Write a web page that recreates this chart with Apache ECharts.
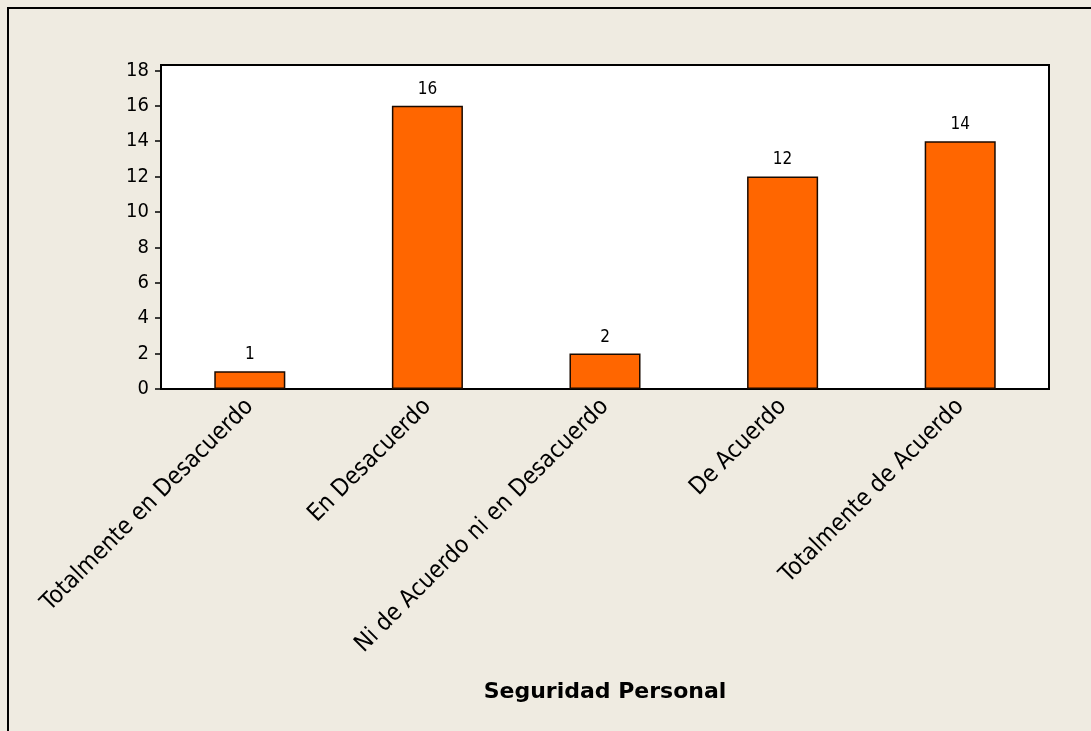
<!DOCTYPE html>
<html>
<head>
<meta charset="utf-8">
<script src="https://cdn.jsdelivr.net/npm/echarts@6/dist/echarts.min.js"></script>
<style>
  html, body { margin: 0; padding: 0; background: #EFEBE1; }
  #wrap { position: relative; width: 1091px; height: 731px; }
  #chart { width: 1091px; height: 731px; }
  #frame { position: absolute; left: 7px; top: 7px; right: -5px; bottom: -5px;
           border-left: 2px solid #000; border-top: 2px solid #000; pointer-events: none; }
</style>
</head>
<body>
<div id="wrap">
  <div id="chart"></div>
  <div id="frame"></div>
</div>
<script>
// categorias y conteos
var categorias = ['Totalmente en Desacuerdo', 'En Desacuerdo', 'Ni de Acuerdo ni en Desacuerdo', 'De Acuerdo', 'Totalmente de Acuerdo'];
var conteos = [1, 16, 2, 12, 14];
var yTicks = [0, 2, 4, 6, 8, 10, 12, 14, 16, 18];

var chart = echarts.init(document.getElementById('chart'));
var fuente = '"DejaVu Sans Condensed", "DejaVu Sans"';

chart.setOption({
    backgroundColor: 'transparent',
    animation: false,
    grid: {
        left: 161, top: 65, width: 888, height: 324,
        show: true, backgroundColor: '#fff', borderColor: '#000', borderWidth: 2
    },
    xAxis: {
        type: 'category',
        data: categorias,
        name: 'Seguridad Personal',
        nameLocation: 'middle',
        nameGap: 292,
        nameTextStyle: { fontFamily: 'DejaVu Sans', fontWeight: 'bold', fontSize: 22, color: '#000' },
        axisLine: { lineStyle: { color: '#000', width: 2 } },
        axisTick: { alignWithLabel: true, length: 6, lineStyle: { color: '#000', width: 1.5 } },
        axisLabel: { rotate: 45, margin: 14, fontFamily: fuente, fontSize: 24, color: '#000' }
    },
    yAxis: {
        type: 'value',
        min: 0, max: 18.3,
        splitLine: { show: false },
        axisLine: { show: true, lineStyle: { color: '#000', width: 2 } },
        axisTick: { show: true, length: 6, lineStyle: { color: '#000', width: 1.5 },
                    customValues: yTicks },
        axisLabel: { margin: 12, fontFamily: fuente, fontSize: 20, color: '#000',
                     customValues: yTicks }
    },
    series: [{
        type: 'bar',
        data: conteos,
        barWidth: '40%',
        itemStyle: { color: '#FF6600', borderColor: '#1a0a00', borderWidth: 1.5 },
        label: { show: true, position: 'top', distance: 8, fontFamily: fuente, fontSize: 17, color: '#000' }
    }]
});
</script>
</body>
</html>
